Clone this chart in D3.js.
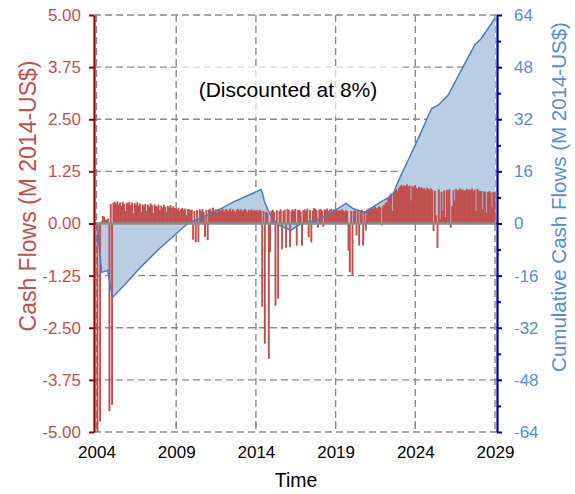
<!DOCTYPE html>
<html>
<head>
<meta charset="utf-8">
<script src="https://cdn.jsdelivr.net/npm/d3@7"></script>
<style>
    body { margin: 0; background: white; }
    text { font-family: "Liberation Sans", Arial, sans-serif; }
</style>
</head>
<body>
<script>
// monthly cash flows, M 2014-US$, Jan 2004 .. Dec 2028
const startYear = 2004
const monthlyCashFlows = [
    -9.7, 0, -4.75, 0.05, 0.18, 0.16, 0.1, 0.08, 0.12, -4.5, 0.47, -4.35,     // 2004
    0.5, 0.52, 0.48, 0.53, 0.45, 0.5, 0.42, 0.52, 0.47, 0.3, 0.5, 0.48,       // 2005
    0.52, 0.44, 0.5, 0.25, 0.49, 0.45, 0.51, 0.43, 0.48, 0.28, 0.46, 0.42,    // 2006
    0.47, 0.3, 0.45, 0.4, 0.48, 0.44, 0.25, 0.46, 0.42, 0.4, 0.45, 0.32,      // 2007
    0.43, 0.38, 0.45, 0.4, 0.28, 0.42, 0.39, 0.44, 0.37, 0.41, 0.38, 0.36,    // 2008
    0.34, 0.38, 0.3, 0.35, 0.37, 0.33, 0.36, 0.2, 0.35, 0.34, 0.32, 0.33,     // 2009
    -0.39, 0.3, -0.45, 0.32, -0.45, 0.34, 0.3, 0.35, 0.28, -0.32, 0.33, -0.4, // 2010
    0.33, 0.36, 0.29, 0.38, 0.31, 0.34, 0.27, 0.35, 0.32, 0.3, 0.36, 0.33,    // 2011
    0.28, 0.35, 0.3, 0.32, 0.36, 0.29, 0.34, 0.31, 0.27, 0.33, 0.35, 0.3,     // 2012
    0.34, 0.28, 0.32, 0.35, 0.31, 0.26, 0.33, 0.3, 0.34, 0.29, 0.32, 0.3,     // 2013
    0.32, 0.28, 0.33, 0.3, -2.0, 0.3, -2.88, 0.28, 0.25, -3.25, -0.69, 0.3,   // 2014
    0.33, 0.28, -1.97, 0.32, -1.8, 0.3, 0.34, -0.62, 0.3, 0.33, -0.58, 0.35,  // 2015
    0.33, -0.57, 0.31, 0.34, 0.3, 0.35, -0.53, 0.32, 0.33, 0.29, -0.53, 0.32, // 2016
    0.34, 0.3, 0.36, -0.33, 0.33, -0.45, 0.31, 0.37, 0.35, 0.32, -0.1, 0.33,  // 2017
    0.35, 0.31, -0.08, 0.34, 0.32, 0.36, 0.3, 0.33, 0.35, 0.31, 0.34, 0.3,    // 2018
    0.33, 0.29, 0.32, 0.3, 0.34, 0.31, 0.28, 0.32, 0.3, -0.65, -1.17, 0.3,    // 2019
    -1.25, 0.3, 0.32, -0.29, 0.31, -0.53, 0.29, 0.33, -0.53, 0.3, -0.17, 0.33, // 2020
    0.36, 0.34, 0.38, 0.35, 0.37, 0.4, 0.36, 0.38, 0.41, 0.39, -0.05, 0.42,   // 2021
    0.45, 0.5, 0.52, 0.6, 0.68, 0.72, 0.3, 0.76, 0.8, 0.82, 0.78, 0.85,       // 2022
    0.9, 0.93, 0.88, 0.92, 0.9, 0.94, 0.89, 0.91, 0.55, 0.9, 0.87, 0.92,      // 2023
    0.86, 0.83, 0.88, 0.84, 0.87, 0.82, 0.85, 0.8, 0.86, 0.83, 0.81, 0.84,    // 2024
    0.8, -0.18, 0.78, 0.2, -0.59, 0.82, 0.1, 0.76, 0.3, 0.79, 0.15, 0.81,     // 2025
    0.78, 0.82, -0.1, 0.42, 0.8, 0.55, 0.83, 0.79, 0.81, 0.84, 0.8, 0.82,     // 2026
    0.78, 0.8, 0.83, 0.79, 0.82, 0.8, 0.84, 0.78, 0.81, 0.3, 0.83, 0.79,      // 2027
    0.77, 0.78, 0.35, 0.77, 0.76, 0.25, 0.75, 0.78, 0.74, 0.4, 0.76, 0.75,    // 2028
]

// cumulative (discounted) cash flow, read at the corners of the blue line
const cumYears = [2004.0, 2004.04, 2004.32, 2004.7, 2005.01, 2005.81, 2006.85, 2007.89, 2009.35, 2009.72,
    2011.51, 2012.76, 2014.32, 2014.42, 2014.52, 2014.73, 2015.04, 2015.46, 2016.19, 2016.58,
    2016.91, 2017.89, 2018.95, 2019.66, 2020.12, 2020.86, 2021.47, 2021.99, 2022.22, 2022.63,
    2022.82, 2023.15, 2023.55, 2023.99, 2025.02, 2025.44, 2026.06, 2026.89, 2027.73, 2028.14, 2029.0]
const cumValues = [0, 0, -15.0, -14.4, -22.7, -18.6, -13.0, -8.0, -1.6, 0,
    3.8, 7.0, 10.4, 9.2, 7.0, 4.5, 1.5, -0.6, -2.1, -0.8,
    0.2, 1.2, 4.0, 6.2, 4.5, 3.4, 5.5, 7.1, 7.6, 9.1,
    11.7, 15.3, 19.4, 24.0, 35.3, 36.3, 39.4, 47.1, 54.8, 56.8, 63.0]

const xTickYears = [2004, 2009, 2014, 2019, 2024, 2029]
const leftTicks = [-5, -3.75, -2.5, -1.25, 0, 1.25, 2.5, 3.75, 5]
const rightTicks = [-64, -48, -32, -16, 0, 16, 32, 48, 64]
const rightMinorTicks = [-56, -40, -24, -8, 8, 24, 40, 56]

const w = 575
const h = 494
const plotLeft = 94
const plotRight = 497
const plotTop = 15
const plotBottom = 432

const svg = d3.select("body")
    .append("svg")
    .attr("width", w)
    .attr("height", h)
    .style("background-color", "white")

const xScale = d3.scaleLinear()
    .domain([2004, 2029])
    .range([96.5, 495])
const yLeft = d3.scaleLinear()
    .domain([-5, 5])
    .range([plotBottom, plotTop])
const yRight = d3.scaleLinear()
    .domain([-64, 64])
    .range([plotBottom, plotTop])

svg.append("clipPath")
    .attr("id", "plot-clip")
    .append("rect")
    .attr("x", plotLeft)
    .attr("y", plotTop)
    .attr("width", plotRight - plotLeft)
    .attr("height", plotBottom - plotTop)

// dashed grid
const grid = svg.append("g")
    .attr("stroke", "#8a8a8a")
    .attr("stroke-width", 1.4)
    .attr("stroke-dasharray", "7,4")
grid.selectAll("line.h")
    .data(leftTicks)
    .enter()
    .append("line")
    .attr("x1", plotLeft)
    .attr("x2", plotRight)
    .attr("y1", (d) => yLeft(d))
    .attr("y2", (d) => yLeft(d))
grid.selectAll("line.v")
    .data(xTickYears)
    .enter()
    .append("line")
    .attr("x1", (d) => xScale(d))
    .attr("x2", (d) => xScale(d))
    .attr("y1", plotTop)
    .attr("y2", plotBottom)

// small inward ticks on the time axis
svg.append("g")
    .selectAll("line")
    .data(xTickYears.slice(1, -1))
    .enter()
    .append("line")
    .attr("x1", (d) => xScale(d))
    .attr("x2", (d) => xScale(d))
    .attr("y1", plotBottom - 11)
    .attr("y2", plotBottom - 5)
    .attr("stroke", "#8a8a8a")
    .attr("stroke-width", 1.2)

// note box
svg.append("rect")
    .attr("x", 177)
    .attr("y", 66)
    .attr("width", 226)
    .attr("height", 51)
    .attr("fill", "white")
    .attr("opacity", 0.65)
svg.append("text")
    .attr("x", 288)
    .attr("y", 97)
    .attr("text-anchor", "middle")
    .style("font-size", "21px")
    .attr("fill", "black")
    .text("(Discounted at 8%)")

const cumData = cumYears.map((y, i) => [y, cumValues[i]])

const plot = svg.append("g").attr("clip-path", "url(#plot-clip)")

plot.append("path")
    .datum(cumData)
    .attr("d", d3.area()
        .x((d) => xScale(d[0]))
        .y0(yRight(0))
        .y1((d) => yRight(d[1])))
    .attr("fill", "#b9cde5")

const barWidth = xScale(startYear + 1 / 12) - xScale(startYear)
plot.selectAll("rect.bar")
    .data(monthlyCashFlows)
    .enter()
    .append("rect")
    .classed("bar", true)
    .attr("x", (d, i) => xScale(startYear + i / 12))
    .attr("width", barWidth + 0.6)
    .attr("y", (d) => yLeft(Math.max(0, d)))
    .attr("height", (d) => Math.abs(yLeft(d) - yLeft(0)))
    .attr("fill", "#c0504d")

plot.append("path")
    .datum(cumData)
    .attr("d", d3.line()
        .x((d) => xScale(d[0]))
        .y((d) => yRight(d[1])))
    .attr("fill", "none")
    .attr("stroke", "#4a7ebb")
    .attr("stroke-width", 1.5)

// zero line
svg.append("line")
    .attr("x1", plotLeft)
    .attr("x2", plotRight)
    .attr("y1", yLeft(0))
    .attr("y2", yLeft(0))
    .attr("stroke", "#8c8c8c")
    .attr("stroke-width", 2.6)

// left axis
const yAxisLeft = d3.axisLeft(yLeft)
    .tickValues(leftTicks)
    .tickFormat((d) => d.toFixed(2))
    .tickSize(5)
    .tickSizeOuter(0)
    .tickPadding(8)
const gl = svg.append("g")
    .attr("transform", `translate(${plotLeft}, 0)`)
    .call(yAxisLeft)
gl.select(".domain").attr("stroke", "#a00000").attr("stroke-width", 2.2)
gl.selectAll(".tick line").attr("stroke", "#a00000").attr("stroke-width", 2)
gl.selectAll(".tick text")
    .attr("fill", "#c0504d")
    .style("font-size", "17px")
    .style("font-family", "Liberation Sans, Arial, sans-serif")

// right axis
const yAxisRight = d3.axisRight(yRight)
    .tickValues(rightTicks)
    .tickFormat((d) => String(d))
    .tickSize(5)
    .tickSizeOuter(0)
    .tickPadding(12)
const gr = svg.append("g")
    .attr("transform", `translate(${plotRight}, 0)`)
    .call(yAxisRight)
gr.select(".domain").attr("stroke", "#000099").attr("stroke-width", 2.2)
gr.selectAll(".tick line").attr("stroke", "#000099").attr("stroke-width", 2)
gr.selectAll(".tick text")
    .attr("fill", "#558ed5")
    .style("font-size", "17px")
    .style("font-family", "Liberation Sans, Arial, sans-serif")
svg.append("g")
    .attr("transform", `translate(${plotRight}, 0)`)
    .call(d3.axisRight(yRight).tickValues(rightMinorTicks).tickFormat("").tickSize(4).tickSizeOuter(0))
    .call((g) => g.select(".domain").remove())
    .selectAll(".tick line")
    .attr("stroke", "#000099")
    .attr("stroke-width", 2)

// time axis labels
const xAxis = d3.axisBottom(xScale)
    .tickValues(xTickYears)
    .tickFormat(d3.format("d"))
    .tickSize(0)
    .tickPadding(14)
const gx = svg.append("g")
    .attr("transform", `translate(0, ${plotBottom})`)
    .call(xAxis)
gx.select(".domain").remove()
gx.selectAll(".tick text")
    .attr("fill", "black")
    .style("font-size", "17px")
    .style("font-family", "Liberation Sans, Arial, sans-serif")

// axis titles
svg.append("text")
    .attr("x", 296)
    .attr("y", 487)
    .attr("text-anchor", "middle")
    .style("font-size", "19.5px")
    .text("Time")
svg.append("text")
    .attr("transform", "translate(36, 196) rotate(-90)")
    .attr("text-anchor", "middle")
    .attr("fill", "#c0504d")
    .style("font-size", "23px")
    .text("Cash Flows (M 2014-US$)")
svg.append("text")
    .attr("transform", "translate(566, 197) rotate(-90)")
    .attr("text-anchor", "middle")
    .attr("fill", "#558ed5")
    .style("font-size", "20.5px")
    .text("Cumulative Cash Flows (M 2014-US$)")
</script>
</body>
</html>
